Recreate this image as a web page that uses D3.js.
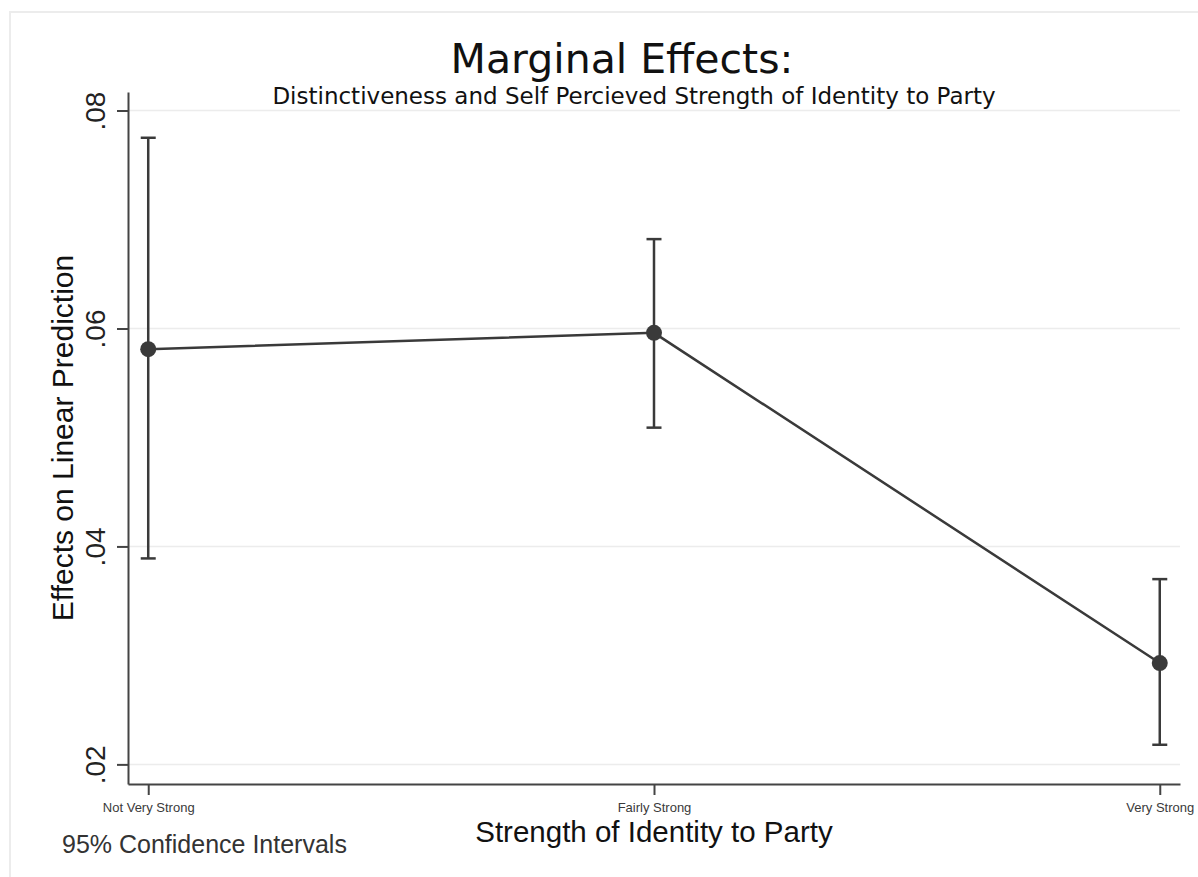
<!DOCTYPE html>
<html>
<head>
<meta charset="utf-8">
<script src="https://cdn.jsdelivr.net/npm/d3@7"></script>
<style>
  html, body { margin: 0; padding: 0; background: #fff; }
  svg { display: block; }
</style>
</head>
<body>
<svg id="chart"></svg>
<script>
// data
const categories = ['Not Very Strong', 'Fairly Strong', 'Very Strong'];
const estimates = [0.0581, 0.0596, 0.0293];
const ciLower = [0.0389, 0.0509, 0.0218];
const ciUpper = [0.0775, 0.0682, 0.0370];
const yTicks = [0.02, 0.04, 0.06, 0.08];
const yTickLabels = ['.02', '.04', '.06', '.08'];
const yExtent = [0.0182, 0.0817];

const width = 1198;
const height = 877;
const margin = { top: 92, right: 18, bottom: 93, left: 128 };
const ink = '#3a3a3a';

const svg = d3.select('#chart').attr('width', width).attr('height', height);

// outer frame of the graph region
svg.append('rect')
  .attr('x', 10).attr('y', 12)
  .attr('width', 1400).attr('height', 1000)
  .attr('fill', '#fff')
  .attr('stroke', '#ececec')
  .attr('stroke-width', 2);

const x = d3.scalePoint()
  .domain(categories)
  .range([margin.left, width - margin.right])
  .padding(0.04);

const y = d3.scaleLinear()
  .domain(yExtent)
  .range([height - margin.bottom, margin.top]);

// gridlines
svg.append('g')
  .selectAll('line')
  .data(yTicks)
  .join('line')
  .attr('x1', margin.left)
  .attr('x2', width - margin.right)
  .attr('y1', d => y(d))
  .attr('y2', d => y(d))
  .attr('stroke', '#ececec')
  .attr('stroke-width', 1.5);

// y-axis
const yAxis = svg.append('g')
  .attr('transform', `translate(${margin.left},0)`)
  .call(d3.axisLeft(y).tickValues(yTicks).tickSize(11).tickSizeOuter(0).tickFormat((d, i) => yTickLabels[i]));
yAxis.select('.domain').attr('stroke', '#444').attr('stroke-width', 2);
yAxis.selectAll('.tick line').attr('stroke', '#444').attr('stroke-width', 2);
yAxis.selectAll('.tick text')
  .attr('x', 0).attr('y', 0).attr('dy', 0)
  .attr('transform', 'translate(-23,0) rotate(-90)')
  .attr('text-anchor', 'middle')
  .style('font-family', '"Liberation Sans", Arial, sans-serif')
  .style('font-size', '28px')
  .attr('fill', '#222');

// x-axis
const xAxis = svg.append('g')
  .attr('transform', `translate(0,${height - margin.bottom})`)
  .call(d3.axisBottom(x).tickSize(11).tickSizeOuter(0));
xAxis.select('.domain').attr('stroke', '#444').attr('stroke-width', 2);
xAxis.selectAll('.tick line').attr('stroke', '#444').attr('stroke-width', 2);
xAxis.selectAll('.tick text')
  .attr('y', 28).attr('dy', 0)
  .style('font-family', '"Liberation Sans Narrow", "Arial Narrow", "Liberation Sans", sans-serif')
  .style('font-size', '13px')
  .attr('fill', '#3a3a3a');

const points = categories.map((c, i) => ({ c, est: estimates[i], lo: ciLower[i], hi: ciUpper[i] }));

// connecting line
svg.append('path')
  .datum(points)
  .attr('fill', 'none')
  .attr('stroke', ink)
  .attr('stroke-width', 2.5)
  .attr('d', d3.line().x(d => x(d.c)).y(d => y(d.est)));

// confidence intervals
const ci = svg.append('g')
  .attr('stroke', ink)
  .attr('stroke-width', 2.5);
ci.selectAll('line.bar')
  .data(points)
  .join('line')
  .attr('class', 'bar')
  .attr('x1', d => x(d.c)).attr('x2', d => x(d.c))
  .attr('y1', d => y(d.lo)).attr('y2', d => y(d.hi));
['lo', 'hi'].forEach(k => {
  ci.selectAll('line.cap-' + k)
    .data(points)
    .join('line')
    .attr('class', 'cap-' + k)
    .attr('x1', d => x(d.c) - 7.5).attr('x2', d => x(d.c) + 7.5)
    .attr('y1', d => y(d[k])).attr('y2', d => y(d[k]));
});

// markers
svg.append('g')
  .selectAll('circle')
  .data(points)
  .join('circle')
  .attr('cx', d => x(d.c))
  .attr('cy', d => y(d.est))
  .attr('r', 8)
  .attr('fill', ink);

// titles
svg.append('text')
  .attr('x', 622).attr('y', 73)
  .attr('text-anchor', 'middle')
  .style('font-family', '"DejaVu Sans", sans-serif')
  .style('font-size', '41px')
  .attr('fill', '#111')
  .text('Marginal Effects:');

svg.append('text')
  .attr('x', 634).attr('y', 104)
  .attr('text-anchor', 'middle')
  .style('font-family', '"DejaVu Sans", sans-serif')
  .style('font-size', '23px')
  .attr('fill', '#111')
  .text('Distinctiveness and Self Percieved Strength of Identity to Party');

svg.append('text')
  .attr('transform', `translate(73,${(margin.top + height - margin.bottom) / 2}) rotate(-90)`)
  .attr('text-anchor', 'middle')
  .style('font-family', '"Liberation Sans", Arial, sans-serif')
  .style('font-size', '30px')
  .attr('fill', '#111')
  .text('Effects on Linear Prediction');

svg.append('text')
  .attr('x', (margin.left + width - margin.right) / 2).attr('y', 842)
  .attr('text-anchor', 'middle')
  .style('font-family', '"Liberation Sans", Arial, sans-serif')
  .style('font-size', '29.5px')
  .attr('fill', '#111')
  .text('Strength of Identity to Party');

svg.append('text')
  .attr('x', 62).attr('y', 853)
  .style('font-family', '"Liberation Sans", Arial, sans-serif')
  .style('font-size', '25px')
  .attr('fill', '#333')
  .text('95% Confidence Intervals');
</script>
</body>
</html>
